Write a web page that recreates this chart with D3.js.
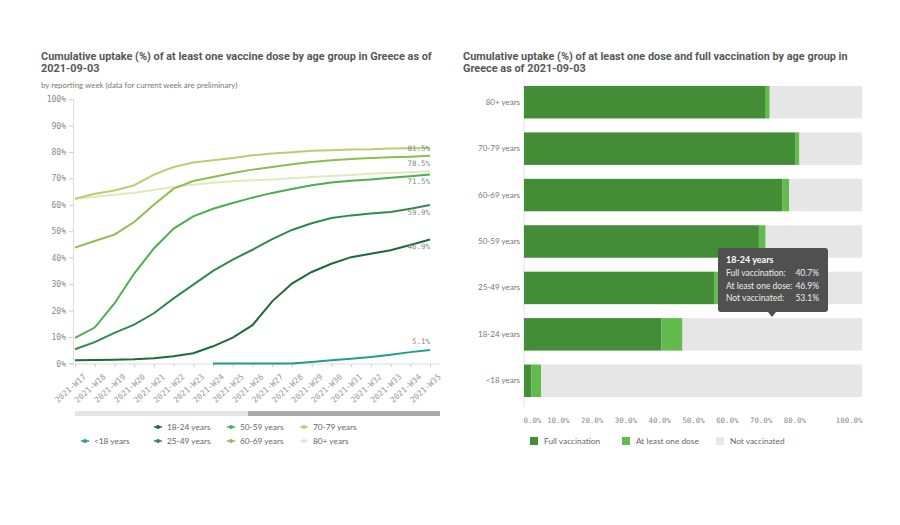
<!DOCTYPE html>
<html>
<head>
<meta charset="utf-8">
<script src="https://cdn.jsdelivr.net/npm/d3@7"></script>
<style>
body { margin: 0; background: #fff; }
text { font-family: Lato, "Open Sans", sans-serif; }
.num { font-family: "DejaVu Sans Mono", monospace; }
.title { font-family: Roboto, sans-serif; font-weight: bold; font-size: 10.9px; fill: #575757; }
</style>
</head>
<body>
<div id="chart"></div>
<script>
// data
var weeks = ["2021-W17","2021-W18","2021-W19","2021-W20","2021-W21","2021-W22","2021-W23","2021-W24","2021-W25",
             "2021-W26","2021-W27","2021-W28","2021-W29","2021-W30","2021-W31","2021-W32","2021-W33","2021-W34","2021-W35"];
var groups = ["<18 years","18-24 years","25-49 years","50-59 years","60-69 years","70-79 years","80+ years"];
var groupColors = ["#1f9e89","#1e6a3a","#2e8a4d","#4cae4f","#8dbd4e","#b7d06e","#e0e9bb"];

var under18 = [null,null,null,null,null,null,null,0,0,0,0,0,0.6,1.2,1.8,2.5,3.3,4.3,5.1];
var age1824 = [1.2,1.3,1.4,1.6,2.0,2.7,3.9,6.5,9.8,14.5,23.5,30.2,34.6,37.7,40.2,41.5,42.8,44.8,46.9];
var age2549 = [5.4,8.1,11.6,14.7,19.0,24.6,29.8,35.0,39.3,43.0,47.0,50.5,53.0,55.0,56.0,56.7,57.3,58.5,59.9];
var age5059 = [9.7,13.6,22.7,34.0,43.5,51.0,55.6,58.5,60.7,62.7,64.5,66.0,67.4,68.4,69.1,69.6,70.2,70.8,71.5];
var age6069 = [43.8,46.3,48.7,53.5,60.0,66.1,69.0,70.5,72.0,73.3,74.3,75.3,76.2,76.8,77.3,77.7,78.0,78.2,78.5];
var age7079 = [62.3,64.2,65.4,67.4,71.4,74.3,76.0,76.8,77.7,78.7,79.4,79.9,80.4,80.6,80.9,81.0,81.3,81.4,81.5];
var age80 = [62.3,63.0,63.8,64.6,65.6,66.8,67.6,68.3,68.9,69.3,69.6,70.0,70.5,70.9,71.3,71.7,72.0,72.3,72.7];
var endLabels = ["5.1%","46.9%","59.9%","71.5%","78.5%","81.5%",null];

var barGroups = ["80+ years","70-79 years","60-69 years","50-59 years","25-49 years","18-24 years","<18 years"];
var fullVacc = [71.3,80.2,76.5,69.5,56.2,40.7,2.2];
var oneDose = [72.7,81.5,78.5,71.5,59.9,46.9,5.1];
var xTicks = [0,10,20,30,40,50,60,70,80,100];
var barKeys = ["Full vaccination","At least one dose","Not vaccinated"];
var barColors = ["#428d36","#62bb4c","#e6e6e6"];

var w = 900, h = 525;
var svg = d3.select("#chart").append("svg").attr("width", w).attr("height", h);

var series = [under18, age1824, age2549, age5059, age6069, age7079, age80];

// ---------- left: line chart ----------
svg.append("text").attr("class", "title").attr("x", 41).attr("y", 59.5)
    .text("Cumulative uptake (%) of at least one vaccine dose by age group in Greece as of");
svg.append("text").attr("class", "title").attr("x", 41).attr("y", 72)
    .text("2021-09-03");
svg.append("text").attr("x", 41).attr("y", 88)
    .style("font-size", "7.9px").attr("fill", "#777")
    .text("by reporting week (data for current week are preliminary)");

var x = d3.scalePoint().domain(weeks).range([75, 430]);
var y = d3.scaleLinear().domain([0, 100]).range([363.5, 99]);

var yAxis = svg.append("g").attr("transform", "translate(73,0)")
    .call(d3.axisLeft(y).ticks(10).tickSize(4).tickFormat(function(d) { return d + "%"; }));
yAxis.select(".domain").attr("stroke", "#ddd");
yAxis.selectAll(".tick line").attr("stroke", "#ccc");
yAxis.selectAll("text").attr("class", "num").style("font-size", "8px").attr("fill", "#888");

var xAxis = svg.append("g").attr("transform", "translate(0,364)")
    .call(d3.axisBottom(x).tickSize(3));
xAxis.select(".domain").attr("stroke", "#ddd").attr("d", "M73,0H440");
xAxis.selectAll(".tick line").attr("stroke", "#ccc");
xAxis.selectAll("text").attr("class", "num").style("font-size", "8px").attr("fill", "#999")
    .attr("text-anchor", "end").attr("dy", "0")
    .attr("transform", "translate(7,9) rotate(-42)");

var line = d3.line()
    .defined(function(d) { return d != null; })
    .x(function(d, i) { return x(weeks[i]); })
    .y(function(d) { return y(d); });

// draw lightest first so darker ones sit on top
for (var s = series.length - 1; s >= 0; s--) {
    svg.append("path").datum(series[s])
        .attr("d", line)
        .attr("fill", "none")
        .attr("stroke", groupColors[s])
        .attr("stroke-width", 2);
}

// end value labels
var last = weeks.length - 1;
for (var s = 0; s < series.length; s++) {
    if (!endLabels[s]) continue;
    var dy = 10;
    if (s == 0) dy = -6;
    if (s == 5) dy = 3;
    svg.append("text").attr("class", "num")
        .attr("x", x(weeks[last]))
        .attr("y", y(series[s][last]) + dy)
        .attr("text-anchor", "end")
        .style("font-size", "7.5px").attr("fill", "#888")
        .text(endLabels[s]);
}

// scrollbar
svg.append("rect").attr("x", 75).attr("y", 411).attr("width", 365).attr("height", 5).attr("fill", "#e4e4e4");
svg.append("rect").attr("x", 248).attr("y", 411).attr("width", 192).attr("height", 5).attr("fill", "#aaaaaa");

// legend
var legend = svg.append("g");
groups.forEach(function(g, i) {
    var col = Math.floor((i + 1) / 2), row = (i + 1) % 2;
    var lx = 81 + col * 73, ly = 427 + row * 14;
    legend.append("line").attr("x1", lx).attr("x2", lx + 8).attr("y1", ly).attr("y2", ly)
        .attr("stroke", groupColors[i]).attr("stroke-width", 1.5);
    legend.append("circle").attr("cx", lx + 4).attr("cy", ly).attr("r", 2).attr("fill", groupColors[i]);
    legend.append("text").attr("x", lx + 13).attr("y", ly + 3)
        .style("font-size", "8.3px").attr("fill", "#666").text(g);
});

// ---------- right: stacked bars ----------
svg.append("text").attr("class", "title").attr("x", 463).attr("y", 59.5)
    .text("Cumulative uptake (%) of at least one dose and full vaccination by age group in");
svg.append("text").attr("class", "title").attr("x", 463).attr("y", 72)
    .text("Greece as of 2021-09-03");

var xb = d3.scaleLinear().domain([0, 100]).range([524, 862]);
var yb = d3.scaleBand().domain(barGroups).range([79, 404]).paddingInner(0.3).paddingOuter(0.15);

svg.append("line").attr("x1", 524).attr("x2", 524).attr("y1", 79).attr("y2", 407).attr("stroke", "#e2e2e2");

var bars = svg.append("g");
barGroups.forEach(function(g, i) {
    var segs = [[0, fullVacc[i]], [fullVacc[i], oneDose[i]], [oneDose[i], 100]];
    segs.forEach(function(sg, k) {
        bars.append("rect")
            .attr("x", xb(sg[0]))
            .attr("y", yb(g))
            .attr("width", xb(sg[1]) - xb(sg[0]))
            .attr("height", yb.bandwidth())
            .attr("fill", barColors[k]);
    });
});

var ybAxis = svg.append("g").attr("transform", "translate(524,0)")
    .call(d3.axisLeft(yb).tickSize(0).tickPadding(4));
ybAxis.select(".domain").remove();
ybAxis.selectAll("text").style("font-size", "8px").attr("fill", "#777");

var xbAxis = svg.append("g").attr("transform", "translate(0,404)")
    .call(d3.axisBottom(xb).tickValues(xTicks).tickSize(0).tickPadding(14)
        .tickFormat(function(d) { return d.toFixed(1) + "%"; }));
xbAxis.select(".domain").remove();
xbAxis.selectAll("text").attr("class", "num").style("font-size", "7.4px").attr("fill", "#888");
xbAxis.selectAll(".tick").filter(function(d) { return d == 0; }).select("text").attr("text-anchor", "start").attr("dx", -1);
xbAxis.selectAll(".tick").filter(function(d) { return d == 100; }).select("text").attr("text-anchor", "end");

// legend
var bx = [530, 622, 716];
barKeys.forEach(function(k, i) {
    svg.append("rect").attr("x", bx[i]).attr("y", 437).attr("width", 8).attr("height", 8).attr("fill", barColors[i]);
    svg.append("text").attr("x", bx[i] + 14).attr("y", 444)
        .style("font-size", "8.3px").attr("fill", "#666").text(k);
});

// tooltip on 18-24 years
var tipIdx = barGroups.indexOf("18-24 years");
var tip = svg.append("g").attr("transform", "translate(718,248)");
tip.append("rect").attr("width", 110).attr("height", 64).attr("rx", 3).attr("fill", "#505050");
tip.append("path").attr("d", "M50,64L54,69L58,64Z").attr("fill", "#505050");
tip.append("text").attr("x", 8).attr("y", 15).style("font-size", "9px").style("font-weight", "bold")
    .attr("fill", "#fff").text(barGroups[tipIdx]);
var tipRows = [["Full vaccination:", fullVacc[tipIdx]], ["At least one dose:", oneDose[tipIdx]], ["Not vaccinated:", 100 - oneDose[tipIdx]]];
tipRows.forEach(function(r, i) {
    tip.append("text").attr("x", 8).attr("y", 28 + i * 12.5).style("font-size", "8.5px").attr("fill", "#eee").text(r[0]);
    tip.append("text").attr("x", 101).attr("y", 28 + i * 12.5).attr("text-anchor", "end")
        .style("font-size", "8.5px").attr("fill", "#eee").text(r[1].toFixed(1) + "%");
});
</script>
</body>
</html>
